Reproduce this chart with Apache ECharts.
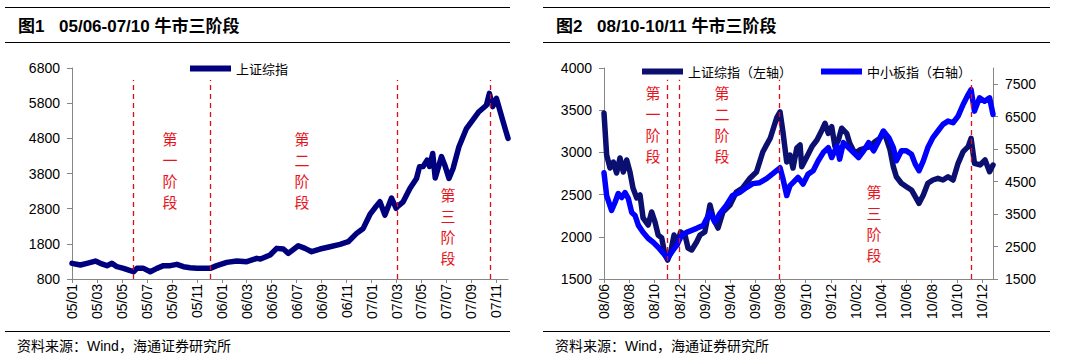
<!DOCTYPE html>
<html><head><meta charset="utf-8">
<script src="https://cdn.jsdelivr.net/npm/echarts/dist/echarts.min.js"></script>
<style>html,body{margin:0;padding:0;background:#fff}#c{width:1071px;height:363px}</style>
</head><body><div id="c"></div>
<script>
// ---------- Figure 1: SSE Composite, 2005-01 .. 2007-11 (x = months since 2005-01) ----------
const leftMonths = [
  0,0.67,1.2,1.87,2.27, 2.8,3.2,3.6,4.13,4.67, 4.93,5.2,5.73,6.27,6.8,
  7.33,7.87,8.4,8.93,9.47, 10.0,10.53,11.07,11.6,12.4, 13.2,14.0,14.8,15.1,15.87,
  16.4,16.93,17.33,18.13,18.67, 19.2,19.87,20.67,21.47,22.13, 22.8,23.33,23.87,24.27,24.67,
  25.07,25.6,25.97,26.05,26.53, 27.07,27.6,27.84,28.13,28.45, 28.65,28.9,29.1,29.6,29.87,
  30.2,30.53,31.0,31.6,32.1, 32.6,33.2,33.44,33.7,34.0, 34.5,34.93
];
const leftSSE = [
  1245,1197,1245,1311,1245, 1179,1245,1150,1103,1037, 1008,1103,1103,1008,1103,
  1179,1179,1216,1150,1122, 1103,1103,1103,1179,1273, 1311,1292,1387,1368,1481,
  1671,1652,1529,1746,1671, 1576,1652,1718,1784,1860, 2097,2238,2636,2825,2996,
  2617,3100,2810,2854,2996, 3374,3658,3990,4000,4180, 4000,4370,3670,4280,4037,
  3660,3942,4560,5078,5320, 5557,5741,6080,5700,5937, 5320,4800
];
const leftXLabels = ['05/01','05/03','05/05','05/07','05/09','05/11','06/01','06/03','06/05',
  '06/07','06/09','06/11','07/01','07/03','07/05','07/07','07/09','07/11'];
const leftYTicks = [800,1800,2800,3800,4800,5800,6800];
const leftStages = [4.93, 11.07, 26.05, 33.49];

// ---------- Figure 2: 2008-06 .. 2010-12 (x = months since 2008-06) ----------
const rightSSEMonths = [
  0,0.21,0.48,0.74,1.0, 1.27,1.53,1.8,2.06,2.3, 2.6,2.86,3.1,3.5,3.78,
  4.05,4.3,4.58,4.84,5.05, 5.29,5.56,5.8,6.08,6.43, 6.67,6.96,7.35,7.62,8.0,
  8.41,8.67,9.05,9.44,10.0, 10.5,11.0,11.6,12.1,12.6, 13.2,13.7,13.97,14.2,14.5,
  14.76,15.0,15.3,15.56,15.69, 16.1,16.5,16.9,17.3,17.54, 17.8,18.07,18.33,18.6,18.86,
  19.26,19.5,19.9,20.3,20.7, 21.1,21.5,21.9,22.17,22.4, 22.7,22.96,23.2,23.6,24.0,
  24.4,24.7,25.0,25.34,25.7, 26.1,26.5,26.9,27.3,27.7, 28.1,28.5,28.9,29.13,29.4,
  29.84,30.24,30.6,30.87
];
const rightSSE = [
  3467,2969,2815,2886,2756, 2934,2768,2910,2768,2578, 2460,2495,2223,2140,2294,
  2175,2021,1986,1784,1725, 1820,2021,1903,2057,2021, 1867,1844,1938,2021,2057,
  2377,2223,2104,2294,2377, 2531,2578,2697,2768,3005, 3171,3408,3479,3242,2886,
  2969,2815,3052,3088,2831, 2949,3068,3147,3266,3345, 3226,3305,3068,3147,3286,
  3226,3108,2989,3029,3049, 3068,3127,3167,3246,3167, 3029,2831,2712,2634,2594,
  2555,2476,2397,2495,2634, 2673,2693,2673,2712,2673, 2871,3009,3068,3167,2871,
  2851,2910,2772,2850
];
const rightSMEMonths = [
  0,0.21,0.6,0.87,1.13, 1.4,1.67,1.93,2.2,2.46, 2.73,3.1,3.5,3.9,4.3,
  4.7,5.05,5.37,5.77,6.16, 6.56,6.96,7.35,7.88,8.41, 8.8,9.2,9.7,10.2,10.76,
  11.3,11.8,12.35,12.9,13.4, 13.97,14.2,14.5,14.76,15.0, 15.4,15.8,16.2,16.6,17.0,
  17.4,17.8,18.07,18.5,18.7, 19.0,19.4,19.8,20.2,20.6, 21.0,21.4,21.8,22.17,22.6,
  22.96,23.2,23.6,24.0,24.4, 24.7,25.0,25.34,25.7,26.1, 26.5,26.9,27.3,27.7,28.1,
  28.5,28.9,29.13,29.4,29.8, 30.2,30.6,30.87
];
const rightSME = [
  4774,4070,3611,3856,4132, 4009,4162,3979,3550,3458, 3152,2938,2755,2632,2479,
  2296,2143,2326,2540,2846, 2938,2999,3060,3152,3550, 3244,3520,3764,4070,4162,
  4315,4438,4468,4591,4744, 4927,4591,4070,4376,4468, 4630,4426,4732,4835,5141,
  5395,5548,5242,5600,5192, 5701,5548,5395,5242,5447, 5701,5447,5753,6059,5855,
  5548,5141,5447,5447,5345, 5039,4835,5141,5548,5855, 6059,6264,6365,6313,6518,
  6876,7182,7335,6671,7080, 6977,7080,6570
];
const rightXLabels = ['08/06','08/08','08/10','08/12','09/02','09/04','09/06','09/08',
  '09/10','09/12','10/02','10/04','10/06','10/08','10/10','10/12'];
const rightLeftTicks = [1500,2000,2500,3000,3500,4000];
const rightRightTicks = [1500,2500,3500,4500,5500,6500,7500];
const rightStages = [4.99, 5.97, 13.93, 29.13];

const NAVY = '#00007f', NAVY2 = '#0a0f70', BLUE = '#0000ff', RED = '#d9101c', AXIS = '#868686';
const NUM_FONT = '"Liberation Sans", Arial, sans-serif';
const CJK_FONT = '"Liberation Sans", "Noto Sans CJK SC", sans-serif';

const zip = (xs, ys) => xs.map((x, i) => [x, ys[i]]);

function xAxisCfg(gridIndex, max, labels) {
  const vals = labels.map((_, i) => i * 2);
  return {
    type: 'value', gridIndex, min: 0, max,
    axisLine: {show: true, onZero: false, lineStyle: {color: AXIS, width: 1}},
    axisTick: {show: true, length: 4, customValues: vals, lineStyle: {color: AXIS}},
    axisLabel: {show: true, rotate: 90, margin: 5, customValues: vals,
      formatter: v => labels[Math.round(v / 2)] || '',
      fontSize: 14, fontFamily: NUM_FONT, color: '#000'},
    splitLine: {show: false}
  };
}
function yAxisCfg(gridIndex, min, max, ticks, position) {
  return {
    type: 'value', gridIndex, min, max, position,
    axisLine: {show: true, lineStyle: {color: AXIS, width: 1}},
    axisTick: {show: true, length: 5, customValues: ticks, lineStyle: {color: AXIS}},
    axisLabel: {show: true, margin: 12, customValues: ticks, formatter: v => String(v),
      fontSize: 14, fontFamily: NUM_FONT, color: '#000'},
    splitLine: {show: false}
  };
}
function stageLines(stages, yLow, yHigh) {
  return {
    silent: true, symbol: ['none', 'none'], animation: false,
    label: {show: false},
    lineStyle: {color: RED, type: [5, 4], width: 1.3},
    data: stages.map(s => [{coord: [s, yLow]}, {coord: [s, yHigh]}])
  };
}
function legendCfg(name, left, top) {
  return {data: [name], left, top, icon: 'rect', itemWidth: 41, itemHeight: 6,
    selectedMode: false, padding: 0,
    textStyle: {fontSize: 13, fontFamily: '"Noto Sans CJK SC", sans-serif', color: '#000'}};
}
function stageText(txt, x, y) {
  return {type: 'text', x, y, style: {text: txt.split('').join('\n'),
    font: '15px "Noto Sans CJK SC", sans-serif', lineHeight: 21, fill: '#e8141c',
    align: 'center', verticalAlign: 'middle'}};
}
function hline(x1, x2, y) {
  return {type: 'line', shape: {x1, y1: y, x2, y2: y}, style: {stroke: '#000', lineWidth: 1}};
}
function txt(t, x, y, font) {
  return {type: 'text', x, y, style: {text: t, font, fill: '#000', verticalAlign: 'middle'}};
}

const chart = echarts.init(document.getElementById('c'), null, {renderer: 'svg'});
chart.setOption({
  animation: false,
  backgroundColor: '#fff',
  grid: [
    {left: 72, right: 563, top: 68, bottom: 84},
    {left: 604, right: 78, top: 68, bottom: 84}
  ],
  xAxis: [xAxisCfg(0, 34.93, leftXLabels), xAxisCfg(1, 30.87, rightXLabels)],
  yAxis: [
    yAxisCfg(0, 800, 6800, leftYTicks, 'left'),
    yAxisCfg(1, 1500, 4000, rightLeftTicks, 'left'),
    yAxisCfg(1, 1500, 8000, rightRightTicks, 'right')
  ],
  legend: [
    legendCfg('上证综指', 190, 62),
    legendCfg('上证综指（左轴）', 642, 65),
    legendCfg('中小板指（右轴）', 821, 65)
  ],
  series: [
    {name: '上证综指', type: 'line', xAxisIndex: 0, yAxisIndex: 0, showSymbol: false,
      data: zip(leftMonths, leftSSE), color: NAVY,
      lineStyle: {width: 5.5, color: NAVY, join: 'round', cap: 'round'},
      markLine: stageLines(leftStages, 800, 6460)},
    {name: '上证综指（左轴）', type: 'line', xAxisIndex: 1, yAxisIndex: 1, showSymbol: false,
      data: zip(rightSSEMonths, rightSSE), color: NAVY2,
      lineStyle: {width: 5.5, color: NAVY2, join: 'round', cap: 'round'},
      markLine: stageLines(rightStages, 1500, 3860)},
    {name: '中小板指（右轴）', type: 'line', xAxisIndex: 1, yAxisIndex: 2, showSymbol: false,
      data: zip(rightSMEMonths, rightSME), color: BLUE,
      lineStyle: {width: 5.5, color: BLUE, join: 'round', cap: 'round'}}
  ],
  graphic: [
    hline(5, 510, 7.5), hline(5, 510, 42.5), hline(5, 510, 331.5),
    hline(543, 1050, 7.5), hline(543, 1050, 42.5), hline(543, 1050, 331.5),
    txt('图1', 18, 26, 'bold 17px ' + CJK_FONT),
    txt('05/06-07/10 牛市三阶段', 59, 26, 'bold 17px ' + CJK_FONT),
    txt('图2', 556, 26, 'bold 17px ' + CJK_FONT),
    txt('08/10-10/11 牛市三阶段', 597, 26, 'bold 17px ' + CJK_FONT),
    txt('资料来源：Wind，海通证券研究所', 17, 346, '14px ' + CJK_FONT),
    txt('资料来源：Wind，海通证券研究所', 555, 346, '14px ' + CJK_FONT),
    stageText('第一阶段', 170, 170),
    stageText('第二阶段', 302, 170),
    stageText('第三阶段', 448, 226),
    stageText('第一阶段', 653, 124),
    stageText('第二阶段', 722, 124),
    stageText('第三阶段', 874, 223)
  ]
});
</script>
</body></html>
